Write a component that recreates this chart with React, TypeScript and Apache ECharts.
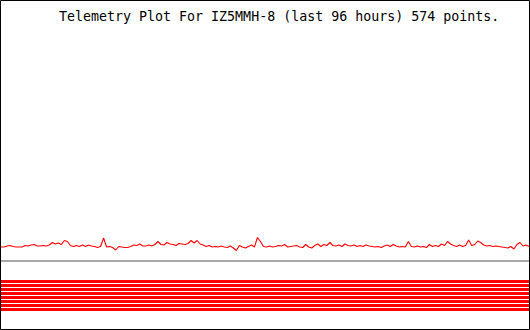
import React, { useEffect, useRef } from "react";
import * as echarts from "echarts";

const titleText = "Telemetry Plot For IZ5MMH-8 (last 96 hours) 574 points.";

// analog channel readings (arbitrary units, sampled across the 96 hours)
const analogA = [
  14, 14, 15, 15.5, 14.5, 14, 14, 14, 15.5, 15, 16, 16.5, 15, 15, 15.5, 15, 16, 18.5, 17, 18,
  16.5, 20.5, 19.5, 15.5, 14.5, 15.5, 14.5, 16, 14.5, 16, 15, 14.5, 13.5, 14.5, 23, 14, 14.5, 13.5, 11, 14.5,
  14, 13.5, 13.5, 14.5, 16, 15.5, 17, 15, 15, 16, 15, 16.5, 19.5, 16.5, 16, 18.5, 17, 16.5, 15.5, 17.5,
];
const analogB = [
  17, 16.5, 17.5, 20.5, 18, 20.5, 17, 16, 14.5, 15.5, 14, 14.5, 14, 15, 14, 13.5, 15, 13, 10.5, 15.5,
  14, 13, 14.5, 16, 14, 23.5, 19.5, 14.5, 14, 15, 14, 14.5, 15.5, 15, 16.5, 14, 14.5, 15, 15.5, 14,
  13.5, 16.5, 14, 13, 15.5, 17, 14.5, 16.5, 15.5, 18.5, 15.5, 15, 16, 14.5, 17, 15.5, 15, 16, 14.5, 15.5,
];
const analogC = [
  14.5, 16, 15, 14.5, 14, 14.5, 13.5, 15, 16, 14.5, 16.5, 15, 14, 14.5, 14, 19.5, 14.5, 14, 15, 14,
  14.5, 13.5, 16.5, 14.5, 15.5, 14.5, 17, 15.5, 19.5, 17, 15.5, 14.5, 16, 14.5, 15.5, 21, 15.5, 16.5, 20, 18.5,
  16, 15, 15.5, 14.5, 15, 14.5, 14, 13.5, 13, 14.5, 12, 16.5, 18.5, 15, 16, 14.5,
];
const analogValues = [...analogA, ...analogB, ...analogC];

// digital bit channels (1 = on for the whole period)
const bitStates = [1, 1, 1, 1, 1, 1, 1, 1];

export default function App() {
  const ref = useRef<HTMLDivElement>(null);

  useEffect(() => {
    if (!ref.current) return;
    const chart = echarts.init(ref.current, null, { renderer: "svg" });
    const samples = analogValues.map((_, i) => String(i));

    const bitSeries = bitStates.map((state, k) => ({
      type: "line",
      xAxisIndex: 1,
      yAxisIndex: 1,
      symbol: "none",
      silent: true,
      lineStyle: { color: "#ff0000", width: 3 },
      data: samples.map(() => (state ? k + 0.5 : null)),
    }));

    chart.setOption({
      animation: false,
      backgroundColor: "#ffffff",
      title: {
        text: titleText,
        left: 59,
        top: 10,
        padding: 0,
        textStyle: {
          fontFamily: "DejaVu Sans Mono",
          fontSize: 13.3,
          fontWeight: "normal",
          color: "#000000",
        },
      },
      grid: [
        { left: 1, right: 1, top: 0, height: 261 },
        { left: 1, right: 1, top: 279.5, height: 32 },
      ],
      xAxis: [
        {
          type: "category",
          gridIndex: 0,
          data: samples,
          boundaryGap: false,
          axisLine: { show: true, onZero: false, lineStyle: { color: "#a8a8a8", width: 2 } },
          axisTick: { show: false },
          axisLabel: { show: false },
          splitLine: { show: false },
        },
        {
          type: "category",
          gridIndex: 1,
          data: samples,
          boundaryGap: false,
          axisLine: { show: false },
          axisTick: { show: false },
          axisLabel: { show: false },
          splitLine: { show: false },
        },
      ],
      yAxis: [
        {
          type: "value",
          gridIndex: 0,
          min: 0,
          max: 261,
          axisLine: { show: false },
          axisTick: { show: false },
          axisLabel: { show: false },
          splitLine: { show: false },
        },
        {
          type: "value",
          gridIndex: 1,
          min: 0,
          max: 8,
          axisLine: { show: false },
          axisTick: { show: false },
          axisLabel: { show: false },
          splitLine: { show: false },
        },
      ],
      series: [
        {
          type: "line",
          xAxisIndex: 0,
          yAxisIndex: 0,
          symbol: "none",
          silent: true,
          lineStyle: { color: "#ff0000", width: 1.1 },
          data: analogValues,
        },
        ...bitSeries,
      ],
      graphic: [
        {
          type: "rect",
          shape: { x: 0.5, y: 0.5, width: 529, height: 329 },
          style: { fill: "none", stroke: "#000000", lineWidth: 1 },
          z: 100,
        },
      ],
    });

    return () => chart.dispose();
  }, []);

  return (
    <div
      ref={ref}
      style={{ position: "fixed", left: 0, top: 0, width: 530, height: 330 }}
    />
  );
}
